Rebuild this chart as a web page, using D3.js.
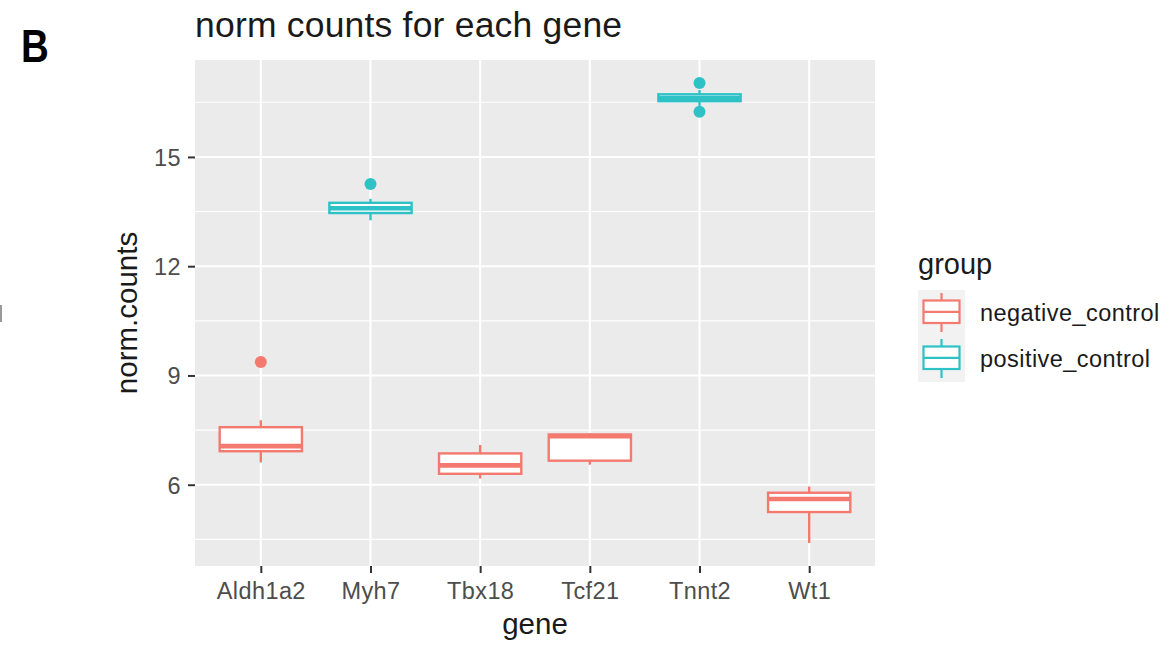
<!DOCTYPE html>
<html>
<head>
<meta charset="utf-8">
<script src="https://cdn.jsdelivr.net/npm/d3@7"></script>
<style>
  body { margin: 0; background: #fff; }
  svg text { font-family: "Liberation Sans", Arial, sans-serif; }
</style>
</head>
<body>
<svg id="chart" width="1174" height="649"></svg>
<script>
// data
const genes = ['Aldh1a2', 'Myh7', 'Tbx18', 'Tcf21', 'Tnnt2', 'Wt1']
const geneGroup = ['negative_control', 'positive_control', 'negative_control', 'negative_control', 'positive_control', 'negative_control']
const whiskerLow = [6.61, 13.26, 6.17, 6.55, 16.40, 4.40]
const lowerQuartile = [6.92, 13.46, 6.30, 6.66, 16.53, 5.25]
const medians = [7.06, 13.59, 6.53, 7.33, 16.62, 5.61]
const upperQuartile = [7.58, 13.74, 6.86, 7.38, 16.72, 5.78]
const whiskerHigh = [7.77, 13.85, 7.09, 7.41, 16.84, 5.95]
const outlierGenes = ['Aldh1a2', 'Myh7', 'Tnnt2', 'Tnnt2']
const outlierValues = [9.37, 14.26, 17.03, 16.24]
const groups = ['negative_control', 'positive_control']
const groupColors = ['#F47A70', '#2EC2C7']
const yMajor = [6, 9, 12, 15]
const yMinor = [4.5, 7.5, 10.5, 13.5, 16.5]

const svg = d3.select('#chart')

const panel = { left: 195, right: 875, top: 60, bottom: 566 }

// ggplot style 5% expansion of the data range
const allValues = whiskerLow.concat(whiskerHigh, outlierValues)
const lo = d3.min(allValues), hi = d3.max(allValues)
const pad = (hi - lo) * 0.05

const y = d3.scaleLinear()
  .domain([lo - pad, hi + pad])
  .range([panel.bottom, panel.top])

const x = d3.scalePoint()
  .domain(genes)
  .range([panel.left, panel.right])
  .padding(0.6)

const color = d3.scaleOrdinal().domain(groups).range(groupColors)
const boxW = x.step() * 0.75

// panel background
svg.append('rect')
  .attr('x', panel.left)
  .attr('y', panel.top)
  .attr('width', panel.right - panel.left)
  .attr('height', panel.bottom - panel.top)
  .attr('fill', '#EBEBEB')

// grid
const grid = svg.append('g')
grid.selectAll('line.minor')
  .data(yMinor)
  .enter()
  .append('line')
  .attr('class', 'minor')
  .attr('x1', panel.left).attr('x2', panel.right)
  .attr('y1', d => y(d)).attr('y2', d => y(d))
  .attr('stroke', '#fff')
  .attr('stroke-width', 1.1)
grid.selectAll('line.major')
  .data(yMajor)
  .enter()
  .append('line')
  .attr('class', 'major')
  .attr('x1', panel.left).attr('x2', panel.right)
  .attr('y1', d => y(d)).attr('y2', d => y(d))
  .attr('stroke', '#fff')
  .attr('stroke-width', 2.1)
grid.selectAll('line.vmajor')
  .data(genes)
  .enter()
  .append('line')
  .attr('class', 'vmajor')
  .attr('x1', d => x(d)).attr('x2', d => x(d))
  .attr('y1', panel.top).attr('y2', panel.bottom)
  .attr('stroke', '#fff')
  .attr('stroke-width', 2.1)

// axes
const yAxis = d3.axisLeft(y).tickValues(yMajor).tickSize(7).tickPadding(7)
svg.append('g')
  .attr('transform', `translate(${panel.left},0)`)
  .call(yAxis)
  .call(g => g.select('.domain').remove())
  .call(g => g.selectAll('line').attr('stroke', '#333').attr('stroke-width', 2))
  .call(g => g.selectAll('text')
    .attr('fill', '#4D4D4D')
    .style('font-size', '23.5px')
    .style('letter-spacing', '0.4px')
    .attr('dy', '0.36em'))

const xAxis = d3.axisBottom(x).tickSize(7).tickPadding(9)
svg.append('g')
  .attr('transform', `translate(0,${panel.bottom})`)
  .call(xAxis)
  .call(g => g.select('.domain').remove())
  .call(g => g.selectAll('line').attr('stroke', '#333').attr('stroke-width', 2))
  .call(g => g.selectAll('text')
    .attr('fill', '#4D4D4D')
    .style('font-size', '23.5px')
    .style('letter-spacing', '0.4px')
    .attr('dy', '0.71em'))

// boxes
const stats = genes.map((g, i) => ({
  gene: g,
  group: geneGroup[i],
  lo: whiskerLow[i],
  q1: lowerQuartile[i],
  med: medians[i],
  q3: upperQuartile[i],
  hi: whiskerHigh[i]
}))

const boxes = svg.append('g')
  .selectAll('g')
  .data(stats)
  .enter()
  .append('g')

boxes.append('line')
  .attr('x1', d => x(d.gene)).attr('x2', d => x(d.gene))
  .attr('y1', d => y(d.hi)).attr('y2', d => y(d.q3))
  .attr('stroke', d => color(d.group))
  .attr('stroke-width', 2.4)
boxes.append('line')
  .attr('x1', d => x(d.gene)).attr('x2', d => x(d.gene))
  .attr('y1', d => y(d.q1)).attr('y2', d => y(d.lo))
  .attr('stroke', d => color(d.group))
  .attr('stroke-width', 2.4)
boxes.append('rect')
  .attr('x', d => x(d.gene) - boxW / 2)
  .attr('width', boxW)
  .attr('y', d => y(d.q3))
  .attr('height', d => y(d.q1) - y(d.q3))
  .attr('fill', '#fff')
  .attr('stroke', d => color(d.group))
  .attr('stroke-width', 2.4)
boxes.append('line')
  .attr('x1', d => x(d.gene) - boxW / 2).attr('x2', d => x(d.gene) + boxW / 2)
  .attr('y1', d => y(d.med)).attr('y2', d => y(d.med))
  .attr('stroke', d => color(d.group))
  .attr('stroke-width', 4.6)

// outliers
svg.append('g')
  .selectAll('circle')
  .data(outlierGenes.map((g, i) => ({ gene: g, value: outlierValues[i] })))
  .enter()
  .append('circle')
  .attr('cx', d => x(d.gene))
  .attr('cy', d => y(d.value))
  .attr('r', 6)
  .attr('fill', d => color(geneGroup[genes.indexOf(d.gene)]))

// titles
svg.append('text')
  .attr('x', panel.left)
  .attr('y', 37)
  .style('font-size', '35.5px')
  .style('letter-spacing', '0.2px')
  .attr('fill', '#1a1a1a')
  .text('norm counts for each gene')

svg.append('text')
  .attr('x', (panel.left + panel.right) / 2)
  .attr('y', 634)
  .attr('text-anchor', 'middle')
  .style('font-size', '29.5px')
  .attr('fill', '#1a1a1a')
  .text('gene')

svg.append('text')
  .attr('transform', `translate(137,${(panel.top + panel.bottom) / 2}) rotate(-90)`)
  .attr('text-anchor', 'middle')
  .style('font-size', '29.5px')
  .attr('fill', '#1a1a1a')
  .text('norm.counts')

// panel letter (narrowed to match)
svg.append('text')
  .attr('transform', 'translate(21,62) scale(0.82,1)')
  .style('font-weight', 'bold')
  .style('font-size', '47px')
  .attr('fill', '#000')
  .text('B')

// stray mark at the left edge
svg.append('rect')
  .attr('x', 0).attr('y', 305)
  .attr('width', 2).attr('height', 17)
  .attr('fill', '#999')

// legend
const legend = svg.append('g').attr('transform', 'translate(918,0)')
legend.append('text')
  .attr('x', 0)
  .attr('y', 274)
  .style('font-size', '29px')
  .attr('fill', '#1a1a1a')
  .text('group')

const keySize = 46
const keys = legend.selectAll('g.key')
  .data(groups)
  .enter()
  .append('g')
  .attr('class', 'key')
  .attr('transform', (d, i) => `translate(0,${290 + i * keySize})`)

keys.append('rect')
  .attr('width', keySize + 1)
  .attr('height', keySize)
  .attr('fill', '#F2F2F2')
keys.append('line')
  .attr('x1', 23.5).attr('x2', 23.5)
  .attr('y1', 3).attr('y2', 42)
  .attr('stroke', d => color(d))
  .attr('stroke-width', 2.2)
keys.append('rect')
  .attr('x', 5.5).attr('y', 10.5)
  .attr('width', 36).attr('height', 22.5)
  .attr('fill', '#fff')
  .attr('stroke', d => color(d))
  .attr('stroke-width', 2.2)
keys.append('line')
  .attr('x1', 5.5).attr('x2', 41.5)
  .attr('y1', 21.8).attr('y2', 21.8)
  .attr('stroke', d => color(d))
  .attr('stroke-width', 2.2)
keys.append('text')
  .attr('x', 62)
  .attr('y', 31)
  .style('font-size', '23.5px')
  .style('letter-spacing', '0.45px')
  .attr('fill', '#1a1a1a')
  .text(d => d)
</script>
</body>
</html>
